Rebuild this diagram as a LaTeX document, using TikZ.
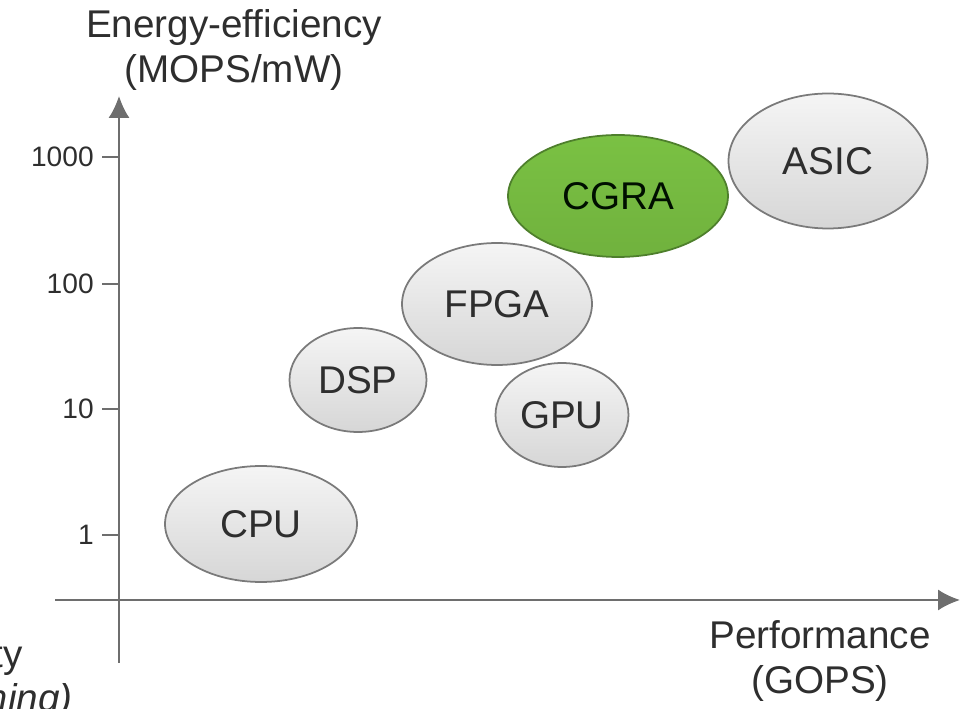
\documentclass[tikz,border=0pt]{standalone}
\usepackage{fontspec}
\setmainfont{Liberation Sans}
\usetikzlibrary{shapes.geometric,arrows.meta}
\definecolor{axisgray}{HTML}{6E6E6E}
\definecolor{txtgray}{HTML}{2E2E2E}
\definecolor{ellborder}{HTML}{7A7A7A}
\definecolor{cgragreen}{HTML}{7AC143}
\definecolor{cgraborder}{HTML}{4E7F2C}
\tikzset{
  axisline/.style={draw=axisgray, line width=1.2pt},
  axisarrow/.style={axisline, -{Latex[length=12.5pt,width=12pt]}},
  ticklbl/.style={font=\fontsize{16}{19}\selectfont, text=txtgray, anchor=east, inner sep=0pt},
  axislbl/.style={font=\fontsize{22}{26}\selectfont, text=txtgray, align=center, inner sep=0pt},
  chip/.style={ellipse, draw=ellborder, line width=1pt, top color=white!96!black, bottom color=white!84!black, text=txtgray, font=\fontsize{22}{26}\selectfont, inner sep=0pt},
  greenchip/.style={chip, draw=cgraborder, top color=cgragreen, bottom color=cgragreen!92!black, text=black!80!green!30!black},
}
\begin{document}
\begin{tikzpicture}[x=0.02cm, y=-0.02cm]
\useasboundingbox (0,0) rectangle (961,709);
\clip (0,0) rectangle (961,709);
% axes
\coordinate (ybot) at (119,663);
\coordinate (ytop) at (119,96);
\coordinate (xleft) at (55,600);
\coordinate (xright) at (960,600);
\draw[axisarrow] (ybot) -- (ytop);
\draw[axisarrow] (xleft) -- (xright);
% ticks
\foreach \yy/\lbl/\nm in {157/1000/t3, 284/100/t2, 409/10/t1, 535/1/t0}{
  \coordinate (\nm a) at (102,\yy);
  \coordinate (\nm b) at (119,\yy);
  \draw[axisline] (\nm a) -- (\nm b);
  \node[ticklbl] (\nm l) at (94,\yy) {\lbl};
}
% axis labels
\node[axislbl] (ylab) at (234,50) {Energy-efficiency\\(MOPS/mW)};
\node[axislbl] (xlab) at (820,661) {Performance\\(GOPS)};
\node[font=\fontsize{22}{26}\selectfont, text=txtgray, anchor=base east, inner sep=0pt] (flex1) at (23,667) {Flexibility};
\node[font=\fontsize{22}{26}\selectfont\itshape, text=txtgray, anchor=base east, inner sep=0pt] (flex2) at (73,711) {(programming)};
% ellipses
\node[chip, minimum width=3.84cm, minimum height=2.32cm] (cpu) at (261,524) {CPU};
\node[chip, minimum width=2.74cm, minimum height=2.08cm] (dsp) at (358,380) {DSP};
\node[chip, minimum width=3.80cm, minimum height=2.44cm] (fpga) at (497,304) {FPGA};
\node[chip, minimum width=2.66cm, minimum height=2.08cm] (gpu) at (562,415) {GPU};
\node[greenchip, minimum width=4.40cm, minimum height=2.44cm] (cgra) at (618,196) {CGRA};
\node[chip, minimum width=3.98cm, minimum height=2.70cm] (asic) at (828,161) {ASIC};
\end{tikzpicture}
\end{document}
